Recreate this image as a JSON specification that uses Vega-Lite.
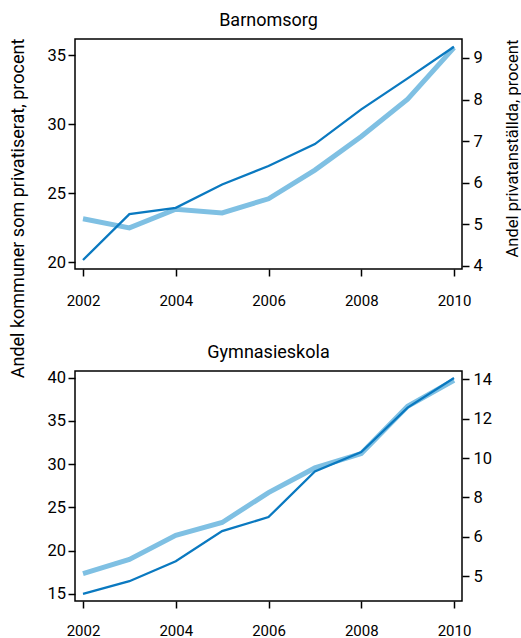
{
  "$schema": "https://vega.github.io/schema/vega-lite/v6.json",
  "padding": {"left": 8, "top": 11, "right": 0, "bottom": 0},
  "background": "white",
  "config": {
    "font": "Roboto",
    "view": {"stroke": "#000", "strokeWidth": 1.5},
    "axis": {
      "grid": false, "domain": false, "tickColor": "#000", "tickWidth": 1.5, "tickSize": 7,
      "labelFont": "Roboto", "labelFontSize": 16.5, "labelColor": "#000",
      "titleFont": "Roboto", "titleFontWeight": "normal", "titleColor": "#000"
    },
    "title": {"font": "Roboto", "fontSize": 18, "fontWeight": "normal", "color": "#000", "anchor": "middle", "baseline": "alphabetic", "offset": 7.5}
  },
  "data": {
    "values": [
      {"sektor": "Barnomsorg", "ar": 2002, "kommuner": 20.17, "anstallda": 5.13},
      {"sektor": "Barnomsorg", "ar": 2003, "kommuner": 23.49, "anstallda": 4.91},
      {"sektor": "Barnomsorg", "ar": 2004, "kommuner": 23.95, "anstallda": 5.36},
      {"sektor": "Barnomsorg", "ar": 2005, "kommuner": 25.63, "anstallda": 5.27},
      {"sektor": "Barnomsorg", "ar": 2006, "kommuner": 26.97, "anstallda": 5.61},
      {"sektor": "Barnomsorg", "ar": 2007, "kommuner": 28.56, "anstallda": 6.30},
      {"sektor": "Barnomsorg", "ar": 2008, "kommuner": 31.07, "anstallda": 7.11},
      {"sektor": "Barnomsorg", "ar": 2009, "kommuner": 33.31, "anstallda": 8.01},
      {"sektor": "Barnomsorg", "ar": 2010, "kommuner": 35.60, "anstallda": 9.25},
      {"sektor": "Gymnasieskola", "ar": 2002, "kommuner": 15.00, "anstallda": 5.07},
      {"sektor": "Gymnasieskola", "ar": 2003, "kommuner": 16.46, "anstallda": 5.43},
      {"sektor": "Gymnasieskola", "ar": 2004, "kommuner": 18.77, "anstallda": 6.08},
      {"sektor": "Gymnasieskola", "ar": 2005, "kommuner": 22.25, "anstallda": 6.73},
      {"sektor": "Gymnasieskola", "ar": 2006, "kommuner": 23.87, "anstallda": 8.25},
      {"sektor": "Gymnasieskola", "ar": 2007, "kommuner": 29.15, "anstallda": 9.50},
      {"sektor": "Gymnasieskola", "ar": 2008, "kommuner": 31.39, "anstallda": 10.23},
      {"sektor": "Gymnasieskola", "ar": 2009, "kommuner": 36.53, "anstallda": 12.63},
      {"sektor": "Gymnasieskola", "ar": 2010, "kommuner": 39.95, "anstallda": 13.95}
    ]
  },
  "spacing": 102,
  "bounds": "flush",
  "vconcat": [
    {
      "title": {"text": "Barnomsorg"},
      "width": 387,
      "height": 230,
      "transform": [{"filter": "datum.sektor === 'Barnomsorg'"}],
      "encoding": {
        "x": {
          "field": "ar", "type": "quantitative",
          "scale": {"domain": [2001.8275, 2010.1725], "nice": false, "zero": false},
          "axis": {"values": [2002, 2004, 2006, 2008, 2010], "format": "d", "title": null, "labelPadding": 17, "labelFontSize": 15}
        }
      },
      "layer": [
        {
          "mark": {"type": "line", "color": "#7fc0e3", "strokeWidth": 5},
          "encoding": {
            "y": {
              "field": "anstallda", "type": "quantitative",
              "scale": {"domain": [3.92, 9.457], "nice": false, "zero": false},
              "axis": {"orient": "right", "values": [4, 5, 6, 7, 8, 9], "title": "Andel privatanställda, procent",
                "titleFontSize": 16.5, "titleAngle": -90, "titleX": 55, "titleY": 109, "titleAlign": "center", "titleBaseline": "alphabetic", "labelPadding": 4}
            }
          }
        },
        {
          "mark": {"type": "line", "color": "#0a79c0", "strokeWidth": 2.3},
          "encoding": {
            "y": {
              "field": "kommuner", "type": "quantitative",
              "scale": {"domain": [19.52, 36.16], "nice": false, "zero": false},
              "axis": {"orient": "left", "values": [20, 25, 30, 35], "title": "Andel kommuner som privatiserat, procent",
                "titleFontSize": 18, "titleAngle": -90, "titleX": -51.3, "titleY": 169, "titleAlign": "center", "titleBaseline": "alphabetic", "labelPadding": 2.5}
            }
          }
        }
      ],
      "resolve": {"scale": {"y": "independent"}}
    },
    {
      "title": {"text": "Gymnasieskola"},
      "width": 387,
      "height": 230,
      "transform": [{"filter": "datum.sektor === 'Gymnasieskola'"}],
      "encoding": {
        "x": {
          "field": "ar", "type": "quantitative",
          "scale": {"domain": [2001.8275, 2010.1725], "nice": false, "zero": false},
          "axis": {"values": [2002, 2004, 2006, 2008, 2010], "format": "d", "title": null, "labelPadding": 15, "labelFontSize": 15}
        }
      },
      "layer": [
        {
          "mark": {"type": "line", "color": "#7fc0e3", "strokeWidth": 5},
          "encoding": {
            "y": {
              "field": "anstallda", "type": "quantitative",
              "scale": {"domain": [4.373, 6, 14.42], "range": [230, 165.9, 0], "nice": false, "zero": false},
              "axis": {"orient": "right", "values": [5, 6, 8, 10, 12, 14], "title": null, "labelPadding": 4}
            }
          }
        },
        {
          "mark": {"type": "line", "color": "#0a79c0", "strokeWidth": 2.3},
          "encoding": {
            "y": {
              "field": "kommuner", "type": "quantitative",
              "scale": {"domain": [14.17, 40.76], "nice": false, "zero": false},
              "axis": {"orient": "left", "values": [15, 20, 25, 30, 35, 40], "title": null, "labelPadding": 2.5}
            }
          }
        }
      ],
      "resolve": {"scale": {"y": "independent"}}
    }
  ]
}
